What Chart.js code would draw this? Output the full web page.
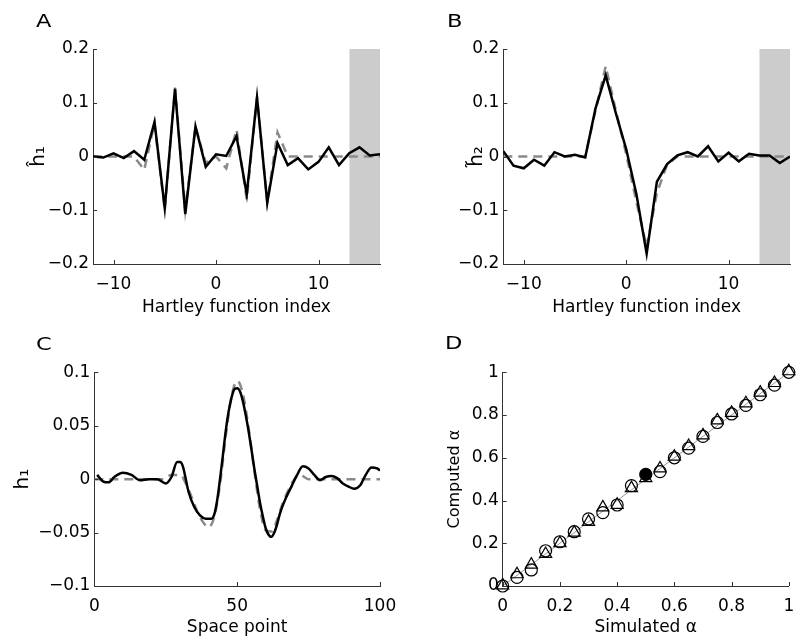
<!DOCTYPE html>
<html>
<head>
<meta charset="utf-8">
<script src="https://cdn.jsdelivr.net/npm/chart.js@4.4.1/dist/chart.umd.min.js"></script>
<style>
  body { margin: 0; background: #fff; }
  #fig { position: relative; width: 797px; height: 640px; overflow: hidden; }
  .panel { position: absolute; }
  .letter { position: absolute; font: 18px "DejaVu Sans"; line-height: 1; color: #000; transform: scaleX(1.25); transform-origin: left top; }
</style>
</head>
<body>
<div id="fig">
  <canvas class="panel" id="chartA" width="398" height="320" style="left:0;top:0"></canvas>
  <canvas class="panel" id="chartB" width="399" height="320" style="left:398px;top:0"></canvas>
  <canvas class="panel" id="chartC" width="398" height="320" style="left:0;top:320px"></canvas>
  <canvas class="panel" id="chartD" width="399" height="320" style="left:398px;top:320px"></canvas>
  <div class="letter" style="left:36px;top:12px">A</div>
  <div class="letter" style="left:447px;top:12px">B</div>
  <div class="letter" style="left:36px;top:335px">C</div>
  <div class="letter" style="left:445px;top:334px">D</div>
</div>
<script>
// panels A and B: Hartley coefficients
const hartleyIdx = [-12, -11, -10, -9, -8, -7, -6, -5, -4, -3, -2, -1, 0, 1, 2, 3, 4, 5, 6, 7, 8, 9, 10, 11, 12, 13, 14, 15, 16];
const h1HatEst = [0, -0.002, 0.006, -0.003, 0.01, -0.006, 0.064, -0.096, 0.126, -0.107, 0.056, -0.019, 0.004, 0.001, 0.038, -0.07, 0.11, -0.086, 0.025, -0.016, -0.003, -0.024, -0.01, 0.017, -0.016, 0.006, 0.017, 0.002, 0.004];
const h1HatTrue = [0, 0, 0, 0, 0, -0.025, 0.062, -0.1, 0.128, -0.1, 0.055, -0.012, 0, -0.022, 0.05, -0.08, 0.11, -0.085, 0.045, 0, 0, 0, 0, 0, 0, 0, 0, 0, 0];
const h2TildeEst = [0.01, -0.017, -0.022, -0.006, -0.017, 0.008, 0, 0.003, -0.002, 0.089, 0.151, 0.08, 0.014, -0.07, -0.181, -0.047, -0.014, 0.002, 0.008, 0, 0.019, -0.009, 0.007, -0.009, 0.005, 0.002, 0.002, -0.012, 0];
const h2TildeTrue = [0, 0, 0, 0, 0, 0, 0, 0, 0, 0.085, 0.168, 0.085, 0.005, -0.085, -0.168, -0.068, -0.015, 0, 0, 0, 0, 0, 0, 0, 0, 0, 0, 0, 0];
const shadeRange = [13, 16];

// panel C: spatial filter
const spaceEstX = [1, 3, 5, 7, 10, 13, 16, 19, 22, 25, 27, 29, 30, 31, 33, 35, 37, 39, 41, 42, 43, 44, 45, 46, 47, 48, 49, 50, 51, 52, 53, 54, 55, 56, 57, 58, 59, 60, 61, 62, 63, 64, 65, 67, 69, 71, 73, 75, 77, 79, 81, 83, 85, 87, 89, 91, 93, 95, 97, 99, 100];
const h1SpaceEst = [0.004, -0.002, -0.003, 0.002, 0.006, 0.004, -0.001, 0, 0, -0.004, 0.002, 0.016, 0.016, 0.012, -0.012, -0.026, -0.034, -0.037, -0.037, -0.033, -0.02, 0, 0.022, 0.045, 0.063, 0.076, 0.084, 0.085, 0.082, 0.073, 0.06, 0.045, 0.028, 0.01, -0.006, -0.022, -0.035, -0.046, -0.052, -0.054, -0.05, -0.042, -0.032, -0.018, -0.007, 0.004, 0.012, 0.01, 0.004, -0.001, 0.002, 0.003, 0.001, -0.004, -0.007, -0.009, -0.006, 0.004, 0.011, 0.01, 0.008];
const spaceTrueX = [0, 24, 27, 30, 33, 36, 38, 40, 42, 44, 46, 48, 50, 52, 54, 56, 58, 60, 62, 64, 66, 68, 70, 72, 75, 100];
const h1SpaceTrue = [0, 0, 0.004, 0.004, -0.01, -0.03, -0.04, -0.045, -0.035, -0.005, 0.04, 0.077, 0.092, 0.08, 0.048, 0.008, -0.028, -0.048, -0.049, -0.038, -0.022, -0.01, 0, 0.004, 0, 0];

// panel D: simulated vs computed alpha
const simAlpha = [0, 0.05, 0.1, 0.15, 0.2, 0.25, 0.3, 0.35, 0.4, 0.45, 0.5, 0.55, 0.6, 0.65, 0.7, 0.75, 0.8, 0.85, 0.9, 0.95, 1];
const compAlphaCircle = [0, 0.04, 0.075, 0.165, 0.207, 0.254, 0.314, 0.343, 0.379, 0.47, 0.522, 0.535, 0.6, 0.645, 0.7, 0.765, 0.805, 0.845, 0.895, 0.94, 1.0];
const compAlphaTriangle = [0.003, 0.055, 0.1, 0.15, 0.2, 0.25, 0.3, 0.368, 0.38, 0.458, 0.505, 0.55, 0.605, 0.655, 0.705, 0.775, 0.81, 0.855, 0.905, 0.95, 1.005];
const filledAlpha = 0.5;
const identityLine = [0, 1];

const axisColor = '#333';
const dashGray = '#8a8a8a';

Chart.defaults.font.family = '"DejaVu Sans"';
Chart.defaults.font.size = 17;
Chart.defaults.color = '#000';

const pts = (xs, ys) => xs.map((x, i) => ({ x, y: ys[i] }));

function fmt(v) {
    const s = String(Math.round(v * 1000) / 1000);
    return s.replace('-', '\u2212');
}

// ticks pointing into the plot, like the original figure
const inwardTicks = {
    id: 'inwardTicks',
    afterDraw(chart) {
        const ctx = chart.ctx;
        const { bottom, left } = chart.chartArea;
        const xs = chart.scales.x, ys = chart.scales.y;
        ctx.save();
        ctx.strokeStyle = axisColor;
        ctx.lineWidth = 1;
        ctx.beginPath();
        xs.ticks.forEach(t => {
            const px = Math.round(xs.getPixelForValue(t.value)) + 0.5;
            ctx.moveTo(px, bottom);
            ctx.lineTo(px, bottom - 4);
        });
        ys.ticks.forEach(t => {
            const py = Math.round(ys.getPixelForValue(t.value)) + 0.5;
            ctx.moveTo(left, py);
            ctx.lineTo(left + 4, py);
        });
        ctx.stroke();
        ctx.restore();
    }
};

function makeChart(id, p, datasets) {
    return new Chart(document.getElementById(id), {
        type: 'line',
        data: { datasets },
        options: {
            responsive: false,
            animation: false,
            layout: { padding: { left: 0, top: p.top, right: p.right, bottom: 0 } },
            plugins: { legend: { display: false }, tooltip: { enabled: false } },
            scales: {
                x: {
                    type: 'linear', min: p.x[0], max: p.x[1],
                    grid: { display: false, drawTicks: false },
                    border: { display: true, color: axisColor, width: 1 },
                    ticks: { stepSize: p.x[2], includeBounds: false, autoSkip: false, maxRotation: 0, padding: 10, callback: v => fmt(v) },
                    title: { display: true, text: p.xTitle, padding: { top: 0, bottom: 2 } },
                    afterFit: s => { s.height = p.h; s.paddingLeft = 0; s.paddingRight = 0; }
                },
                y: {
                    type: 'linear', min: p.y[0], max: p.y[1],
                    grid: { display: false, drawTicks: false },
                    border: { display: true, color: axisColor, width: 1 },
                    ticks: { stepSize: p.y[2], includeBounds: false, autoSkip: false, padding: 4, callback: v => fmt(v) },
                    title: { display: true, text: p.yTitle, font: { size: p.yTitleSize }, padding: { top: p.yTitlePad, bottom: 0 } },
                    afterFit: s => { s.width = p.w; s.paddingTop = 0; s.paddingBottom = 0; }
                }
            }
        },
        plugins: [inwardTicks]
    });
}

function hartleySets(est, truth, yMax) {
    return [
        { data: pts(hartleyIdx, est), borderColor: '#000', borderWidth: 2.5, pointRadius: 0, tension: 0, order: 1 },
        { data: pts(hartleyIdx, truth), borderColor: dashGray, borderWidth: 2.5, borderDash: [9, 6], pointRadius: 0, tension: 0, order: 2 },
        { data: pts(shadeRange, [yMax, yMax]), borderWidth: 0, borderColor: 'rgba(0,0,0,0)', backgroundColor: '#cccccc', fill: 'start', pointRadius: 0, order: 3 }
    ];
}

makeChart('chartA',
    { top: 49, right: 18, w: 93, h: 56, x: [-12, 16, 10], y: [-0.2, 0.2, 0.1], xTitle: 'Hartley function index',
      yTitle: '\u0125\u2081', yTitleSize: 20, yTitlePad: 27 },
    hartleySets(h1HatEst, h1HatTrue, 0.2));

makeChart('chartB',
    { top: 49, right: 7, w: 105.3, h: 56, x: [-12, 16, 10], y: [-0.2, 0.2, 0.1], xTitle: 'Hartley function index',
      yTitle: 'h\u0303\u2082', yTitleSize: 20, yTitlePad: 67 },
    hartleySets(h2TildeEst, h2TildeTrue, 0.2));

makeChart('chartC',
    { top: 52.3, right: 18, w: 94.3, h: 54, x: [0, 100, 50], y: [-0.1, 0.1, 0.05], xTitle: 'Space point',
      yTitle: 'h\u2081', yTitleSize: 20, yTitlePad: 10.5 },
    [
        { data: pts(spaceEstX, h1SpaceEst), borderColor: '#000', borderWidth: 2.5, pointRadius: 0, cubicInterpolationMode: 'monotone', order: 1 },
        { data: pts(spaceTrueX, h1SpaceTrue), borderColor: dashGray, borderWidth: 2.5, borderDash: [9, 6], pointRadius: 0, cubicInterpolationMode: 'monotone', order: 2 }
    ]);

makeChart('chartD',
    { top: 52.3, right: 7, w: 104.7, h: 54, x: [0, 1, 0.2], y: [0, 1, 0.2], xTitle: 'Simulated \u03b1',
      yTitle: 'Computed \u03b1', yTitleSize: 16, yTitlePad: 47 },
    [
        { data: pts(simAlpha, compAlphaCircle), showLine: false, pointStyle: 'circle', pointRadius: 6, pointBorderWidth: 1.2,
          pointBorderColor: '#000', pointBackgroundColor: ctx => (ctx.raw && ctx.raw.x === filledAlpha ? '#000' : 'rgba(0,0,0,0)'), clip: false, order: 1 },
        { data: pts(simAlpha, compAlphaTriangle), showLine: false, pointStyle: 'triangle', pointRadius: 7, pointBorderWidth: 1.2,
          pointBorderColor: '#000', pointBackgroundColor: 'rgba(0,0,0,0)', clip: false, order: 2 },
        { data: pts(identityLine, identityLine), borderColor: '#999', borderWidth: 1, pointRadius: 0, order: 3 }
    ]);
</script>
</body>
</html>
